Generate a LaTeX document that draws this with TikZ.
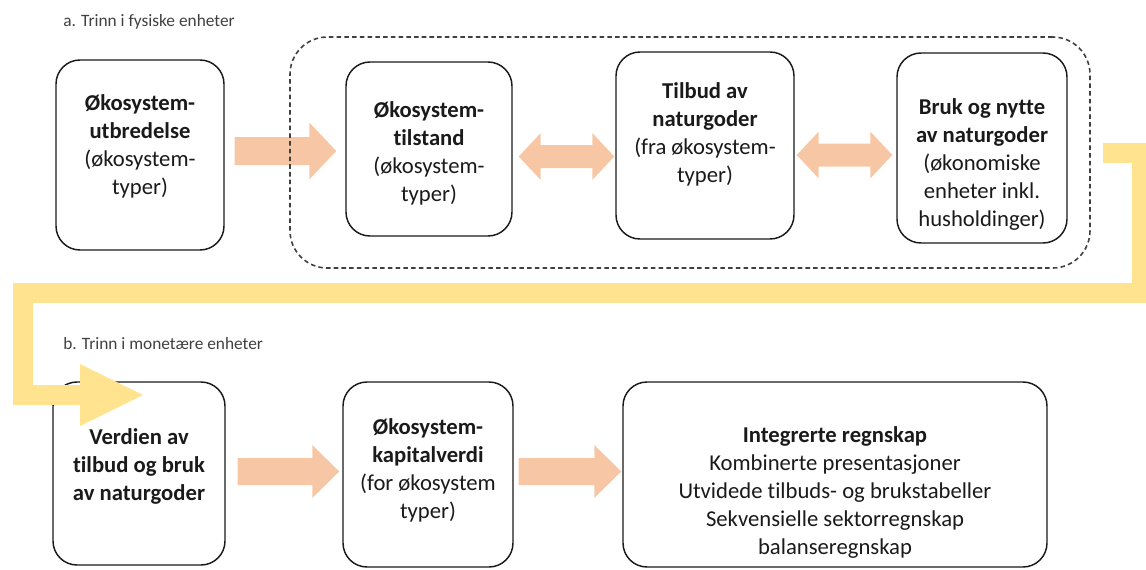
\documentclass[tikz,border=0pt]{standalone}
\usepackage{fontspec}
\setmainfont{Carlito}[Ligatures=NoCommon]
\usetikzlibrary{calc}
\definecolor{peach}{HTML}{F7C7A5}
\definecolor{gold}{HTML}{FFE38F}
\definecolor{labelgray}{HTML}{404040}
\definecolor{ink}{HTML}{1A1A1A}
\def\pxu{0.75pt}
% right-pointing block arrow: tail, tip, half body, half head, head length (px)
\newcommand\blockR[5]{%
  \fill[peach] let \p1=(#1), \p2=(#2) in
    (\x1,\y1+#3*\pxu) -- (\x2-#5*\pxu,\y1+#3*\pxu) -- (\x2-#5*\pxu,\y1+#4*\pxu)
    -- (\x2,\y1) -- (\x2-#5*\pxu,\y1-#4*\pxu) -- (\x2-#5*\pxu,\y1-#3*\pxu)
    -- (\x1,\y1-#3*\pxu) -- cycle;}
% double-headed block arrow: left tip, right tip, half body, half head, head length (px)
\newcommand\blockLR[5]{%
  \fill[peach] let \p1=(#1), \p2=(#2) in
    (\x1,\y1) -- (\x1+#5*\pxu,\y1+#4*\pxu) -- (\x1+#5*\pxu,\y1+#3*\pxu)
    -- (\x2-#5*\pxu,\y1+#3*\pxu) -- (\x2-#5*\pxu,\y1+#4*\pxu) -- (\x2,\y1)
    -- (\x2-#5*\pxu,\y1-#4*\pxu) -- (\x2-#5*\pxu,\y1-#3*\pxu)
    -- (\x1+#5*\pxu,\y1-#3*\pxu) -- (\x1+#5*\pxu,\y1-#4*\pxu) -- cycle;}
\tikzset{
  stagebox/.style={draw=ink, line width=1.1pt, rounded corners=18pt, fill=white, inner sep=0pt},
  stagetext/.style={align=center, text=ink, font=\fontsize{17}{21}\selectfont, inner sep=0pt},
  steplabel/.style={anchor=west, text=labelgray, font=\fontsize{13}{15}\selectfont, inner sep=0pt},
  groupbox/.style={draw=labelgray, line width=1.2pt, dash pattern=on 3.4pt off 2.4pt,
    rounded corners=28pt, inner sep=0pt},
  flowbar/.style={draw=gold, line width=20*\pxu, line join=miter}
}
\begin{document}
\begin{tikzpicture}[x=0.75pt, y=-0.75pt]
\useasboundingbox (0,0) rectangle (1146,569);

% section labels
\node[steplabel] (la) at (63,22) {a. Trinn i fysiske enheter};
\node[steplabel] (lb) at (63,344) {b. Trinn i monetære enheter};

% physical stages
\node[stagebox, minimum width=168*\pxu, minimum height=190*\pxu] (b1) at (140,155) {};
\node[stagetext] (t1) at (140,146) {\textbf{Økosystem-}\\\textbf{utbredelse}\\(økosystem-\\typer)};
\node[stagebox, minimum width=166*\pxu, minimum height=174*\pxu] (b2) at (429,149) {};
\node[stagetext] (t2) at (429,153) {\textbf{Økosystem-}\\\textbf{tilstand}\\(økosystem-\\typer)};
\node[stagebox, minimum width=178*\pxu, minimum height=187*\pxu] (b3) at (705,145.5) {};
\node[stagetext] (t3) at (705,134) {\textbf{Tilbud av}\\\textbf{naturgoder}\\(fra økosystem-\\typer)};
\node[stagebox, minimum width=170*\pxu, minimum height=190*\pxu] (b4) at (982,148) {};
\node[stagetext] (t4) at (982,164) {\textbf{Bruk og nytte}\\\textbf{av naturgoder}\\(økonomiske\\enheter inkl.\\husholdinger)};

% monetary stages
\node[stagebox, minimum width=172*\pxu, minimum height=183*\pxu] (b5) at (139,473.5) {};
\node[stagetext] (t5) at (139,466) {\textbf{Verdien av}\\\textbf{tilbud og bruk}\\\textbf{av naturgoder}};
\node[stagebox, minimum width=170*\pxu, minimum height=185*\pxu] (b6) at (428,474.5) {};
\node[stagetext] (t6) at (428,470) {\textbf{Økosystem-}\\\textbf{kapitalverdi}\\(for økosystem\\typer)};
\node[stagebox, minimum width=424*\pxu, minimum height=185*\pxu] (b7) at (835,474.5) {};
\node[stagetext] (t7) at (835,492) {\textbf{Integrerte regnskap}\\Kombinerte presentasjoner\\Utvidede tilbuds- og brukstabeller\\Sekvensielle sektorregnskap\\balanseregnskap};

% block arrows between stages
\coordinate (a1s) at ($(b1.east)+(10,-4)$);
\coordinate (a1e) at ($(b2.west)+(-9,2)$);
\blockR{a1s}{a1e}{14}{28.5}{27}
\coordinate (a2s) at ($(b2.east)+(6,7.5)$);
\coordinate (a2e) at ($(b3.west)+(-1,11)$);
\blockLR{a2s}{a2e}{11.5}{23.5}{22}
\coordinate (a3s) at ($(b3.east)+(2,9.5)$);
\coordinate (a3e) at ($(b4.west)+(-4,7)$);
\blockLR{a3s}{a3e}{11.5}{23.5}{22}
\coordinate (a4s) at ($(b5.east)+(12,-2)$);
\coordinate (a4e) at ($(b6.west)+(-3,-3)$);
\blockR{a4s}{a4e}{13.5}{26.5}{27}
\coordinate (a5s) at ($(b6.east)+(5,-3)$);
\coordinate (a5e) at ($(b7.west)+(-1,-3)$);
\blockR{a5s}{a5e}{13.5}{26.5}{27}

% grouping of the physical stages
\node[groupbox, minimum width=800*\pxu, minimum height=231*\pxu] (grp) at (690,152.5) {};

% flow from the physical to the monetary stages
\coordinate (ys) at (1103,153);
\coordinate (yh) at (80,395);
\coordinate (yt) at (143,395);
\draw[flowbar] (ys) -| (1142,293) -| (23,395) -- ([xshift=1]yh);
\fill[gold] ($(yh)+(0,-31)$) -- (yt) -- ($(yh)+(0,31)$) -- cycle;
\end{tikzpicture}
\end{document}
